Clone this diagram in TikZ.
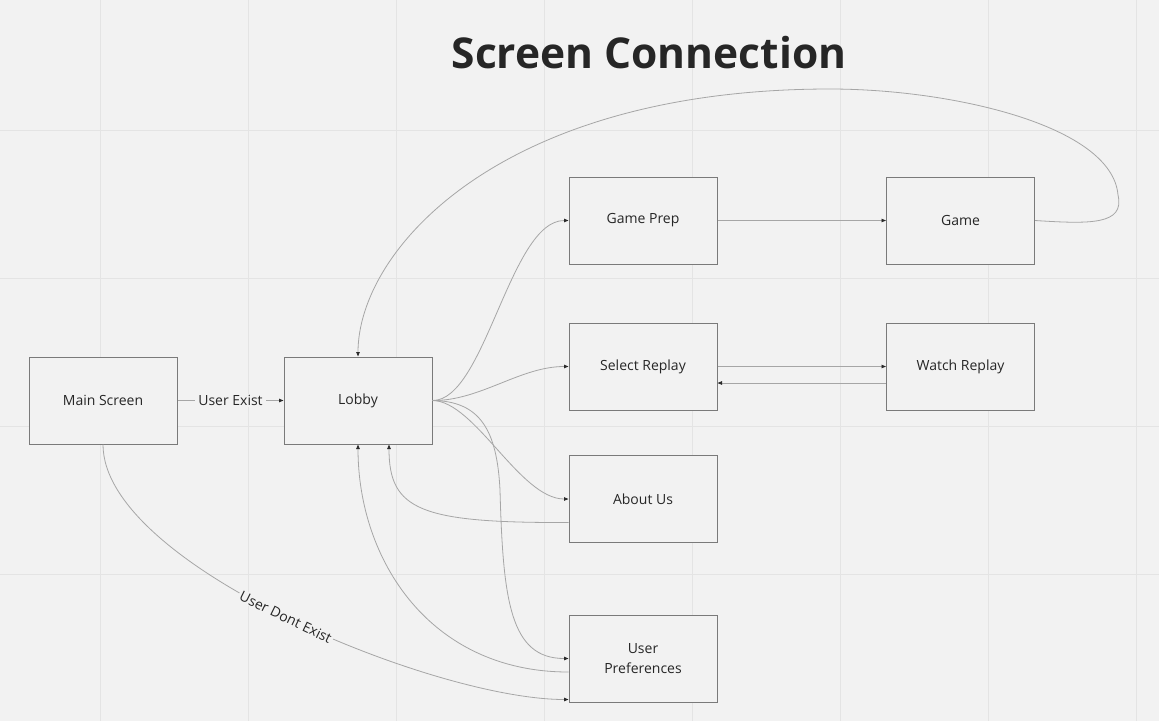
\documentclass[tikz,border=0pt]{standalone}
\usepackage{fontspec}
\setmainfont{Open Sans}
\usetikzlibrary{arrows.meta,calc}
\definecolor{bgc}{HTML}{F2F2F2}
\definecolor{gridc}{HTML}{E4E4E4}
\definecolor{boxc}{HTML}{7A7A7A}
\definecolor{linec}{HTML}{A6A6A6}
\definecolor{txtc}{HTML}{262626}
\definecolor{tipc}{HTML}{2A2A2A}
\begin{document}
\begin{tikzpicture}[x=1pt,y=-1pt,
  box/.style={draw=boxc, line width=1pt, fill=bgc, minimum width=148pt, minimum height=87pt,
    inner sep=0pt, align=center, text=txtc, font=\fontsize{14}{19.5}\selectfont},
  conn/.style={draw=linec, line width=0.8pt},
  arr/.style={-{Triangle[length=4.5pt,width=3.5pt,color=tipc]}},
  lbl/.style={fill=bgc, inner xsep=3pt, inner ysep=1pt, text=txtc, font=\fontsize{14}{17}\selectfont}]
\fill[bgc] (0,0) rectangle (1159,721);
\useasboundingbox (0,0) rectangle (1159,721);
\foreach \x in {100.5,248.5,396.5,544.5,692.5,840.5,988.5,1136.5}
  \draw[gridc, line width=1pt] (\x,0) -- (\x,721);
\foreach \y in {130,278,426,574}
  \draw[gridc, line width=1pt] (0,\y) -- (1159,\y);

\node[font=\bfseries\fontsize{42.5}{50}\selectfont, text=txtc] (title) at (649,53) {Screen Connection};

\node[box] (main) at (103,400.5) {Main Screen};
\node[box] (lobby) at (358,400.5) {Lobby};
\node[box] (gprep) at (643,220.5) {Game Prep};
\node[box] (game) at (960.5,220.5) {Game};
\node[box] (srep) at (643,366.5) {Select Replay};
\node[box] (wrep) at (960.5,366.5) {Watch Replay};
\node[box] (about) at (643,499) {About Us};
\node[box] (upref) at (643,658.5) {User\\Preferences};

\draw[conn,arr] (main) -- node[lbl] {User Exist} (lobby);
\draw[conn,arr] (main.south) .. controls (103,565) and (435,699.5) ..
  node[lbl, pos=0.5, sloped, inner xsep=2pt] {User Dont Exist} ($(upref.west)+(0,41)$);

\draw[conn,arr] (lobby.east) .. controls (485,401) and (510,220.5) .. (gprep.west);
\draw[conn,arr] (lobby.east) .. controls (480,401) and (520,366.5) .. (srep.west);
\draw[conn,arr] (lobby.east) .. controls (475,401) and (520,499) .. (about.west);
\draw[conn,arr] (lobby.east) .. controls (480,401) and (497,430) .. (500,490)
  .. controls (503,600) and (510,658.5) .. (upref.west);

\draw[conn,arr] (gprep) -- (game);
\draw[conn,arr] (srep.east) -- (wrep.west);
\draw[conn,arr] ($(wrep.west)+(0,16.5)$) -- ($(srep.east)+(0,16.5)$);

\draw[conn,arr] (game.east) .. controls (1090,224) and (1125,225) .. (1118,195)
  .. controls (1112,125) and (950,89) .. (830,89)
  .. controls (500,89) and (358,250) .. (lobby.north);

\draw[conn,arr] ($(about.west)+(0,23.5)$) .. controls (420,523) and (389,510) .. ($(lobby.south)+(31,0)$);
\draw[conn,arr] ($(upref.west)+(0,13.5)$) .. controls (430,672) and (358,560) .. (lobby.south);
\end{tikzpicture}
\end{document}
